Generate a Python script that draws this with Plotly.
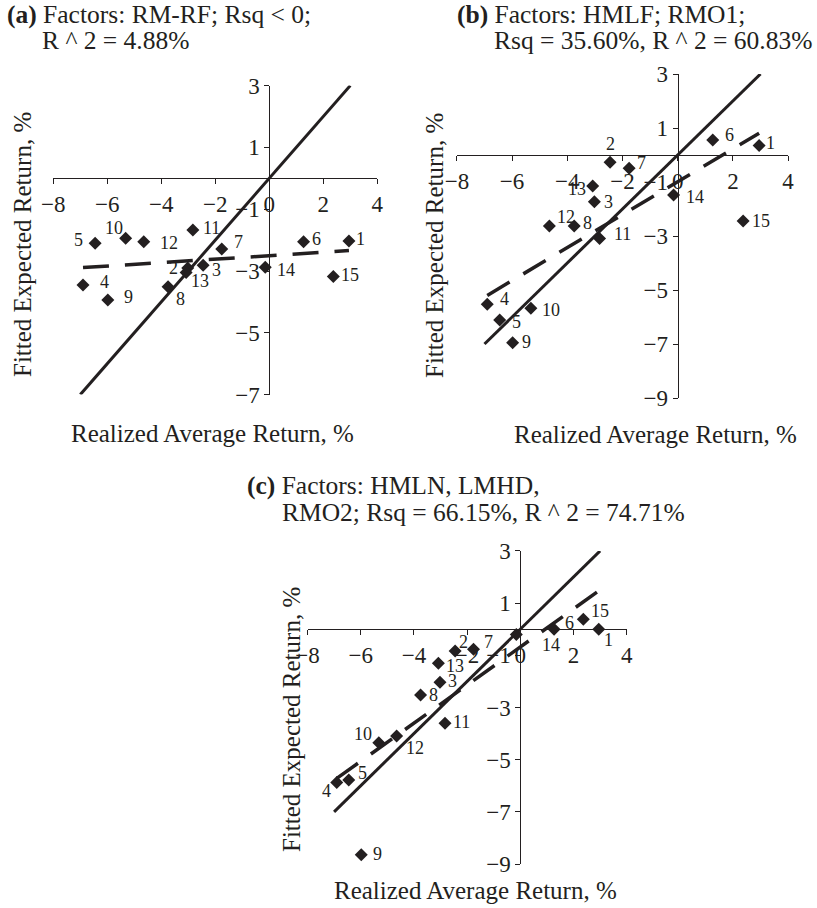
import plotly.graph_objects as go

W, H = 817, 908
FONT = "Liberation Serif"
INK = "#231f20"

# ---- data ----
portfolios = [str(i) for i in range(1, 16)]
realized = [2.95, -2.45, -3.02, -6.90, -6.45, 1.27, -1.76, -3.75, -5.98, -5.32, -2.83, -4.65, -3.08, -0.15, 2.37]
fitted_a = [-2.03, -2.81, -2.90, -3.45, -2.10, -2.05, -2.29, -3.51, -3.94, -1.94, -1.67, -2.05, -3.05, -2.88, -3.18]
fitted_b = [0.35, -0.27, -1.73, -5.53, -6.11, 0.56, -0.49, -2.63, -6.95, -5.68, -3.09, -2.63, -1.15, -1.48, -2.44]
fitted_c = [0.00, -0.84, -2.03, -5.88, -5.78, 0.00, -0.77, -2.52, -8.65, -4.35, -3.61, -4.09, -1.31, -0.20, 0.38]

diag_x = [-7, 3]
diag_y = [-7, 3]
fit_a_x, fit_a_y = [-6.9, 2.95], [-2.89, -2.34]
fit_b_x, fit_b_y = [-6.9, 2.95], [-5.20, 0.81]
fit_c_x, fit_c_y = [-6.9, 2.95], [-5.72, 1.47]

x_ticks = [-8, -6, -4, -2, 0, 2, 4]
y_ticks_a = [-7, -5, -3, -1, 1, 3]
y_ticks_bc = [-9, -7, -5, -3, -1, 1, 3]

titles_a = ["<b>(a)</b> Factors: RM-RF; Rsq < 0;", "R ^ 2 = 4.88%"]
titles_b = ["<b>(b)</b> Factors: HMLF; RMO1;", "Rsq = 35.60%, R ^ 2 = 60.83%"]
titles_c = ["<b>(c)</b> Factors: HMLN, LMHD,", "RMO2; Rsq = 66.15%, R ^ 2 = 74.71%"]
x_title = "Realized Average Return, %"
y_title = "Fitted Expected Return, %"

# ---- label offsets (px, dx right, dy down) ----
off_a = [(12, -2), (-30, 3), (29, 2), (21, -3), (-17, -3), (13, -3), (17, -7), (12, 12),
         (21, -3), (-12, -10), (19, -2), (25, 1), (14, 8), (21, 3), (17, -2)]
off_b = [(11, -3), (0, -18), (14, 0), (17, -5), (17, 2), (17, -5), (12, -5), (13, -3),
         (14, -1), (20, 2), (23, -4), (17, -9), (-16, 3), (21, 2), (18, 0)]
off_c = [(10, 11), (8, -9), (13, -1), (-10, 8), (14, -7), (15, -6), (15, -7), (13, 0),
         (16, -1), (-16, -9), (16, -1), (18, 12), (17, 3), (35, 11), (17, -8)]

# ---- panel geometry (px) ----
panels = [
    dict(fitted=fitted_a, fx=fit_a_x, fy=fit_a_y, off=off_a, titles=titles_a,
         xpx=(53.3, 377.3), ypx=(394.6, 85.6), yr=[-7, 3], yt=y_ticks_a,
         tpos=[(5, 15), (40, 41)], xt=(212, 433), yt_pos=(22, 245)),
    dict(fitted=fitted_b, fx=fit_b_x, fy=fit_b_y, off=off_b, titles=titles_b,
         xpx=(456.9, 788.1), ypx=(398, 74), yr=[-9, 3], yt=y_ticks_bc,
         tpos=[(455, 15), (492, 41)], xt=(655, 434), yt_pos=(434, 246)),
    dict(fitted=fitted_c, fx=fit_c_x, fy=fit_c_y, off=off_c, titles=titles_c,
         xpx=(307.5, 626.7), ypx=(864, 550.9), yr=[-9, 3], yt=y_ticks_bc,
         tpos=[(245, 485), (280, 512)], xt=(475, 890), yt_pos=(291, 720)),
]

fig = go.Figure()
annotations = []
layout = {}

for i, p in enumerate(panels):
    n = "" if i == 0 else str(i + 1)
    xa, ya = "x" + n, "y" + n
    xd = [p["xpx"][0] / W, p["xpx"][1] / W]
    yd = [1 - p["ypx"][0] / H, 1 - p["ypx"][1] / H]
    xr = [x_ticks[0], x_ticks[-1]]
    yr = p["yr"]
    ypos0 = yd[0] + (0 - yr[0]) / (yr[1] - yr[0]) * (yd[1] - yd[0])
    xpos0 = xd[0] + (0 - xr[0]) / (xr[1] - xr[0]) * (xd[1] - xd[0])
    common = dict(showgrid=False, zeroline=False, showline=True, linecolor=INK, linewidth=1,
                  ticks="outside", ticklen=5, tickwidth=1, tickcolor=INK, automargin=False,
                  tickfont=dict(family=FONT, size=23, color=INK))
    layout["xaxis" + n] = dict(domain=xd, range=xr, tickvals=x_ticks, anchor="free",
                               position=ypos0, **common)
    layout["yaxis" + n] = dict(domain=yd, range=yr, tickvals=p["yt"], anchor="free",
                               position=xpos0, **common)

    fig.add_trace(go.Scatter(x=diag_x, y=diag_y, mode="lines", xaxis=xa, yaxis=ya,
                             line=dict(color=INK, width=3), showlegend=False, cliponaxis=False))
    fig.add_trace(go.Scatter(x=p["fx"], y=p["fy"], mode="lines", xaxis=xa, yaxis=ya,
                             line=dict(color=INK, width=3.5, dash="26px,16px"),
                             showlegend=False, cliponaxis=False))
    fig.add_trace(go.Scatter(x=realized, y=p["fitted"], mode="markers", xaxis=xa, yaxis=ya,
                             marker=dict(symbol="diamond", size=10, color=INK),
                             showlegend=False, cliponaxis=False))
    for lab, xv, yv, (dx, dy) in zip(portfolios, realized, p["fitted"], p["off"]):
        annotations.append(dict(x=xv, y=yv, xref=xa, yref=ya, text=lab, showarrow=False,
                                xshift=dx, yshift=-dy, xanchor="center", yanchor="middle",
                                font=dict(family=FONT, size=18, color=INK)))
    for t, (tx, ty) in zip(p["titles"], p["tpos"]):
        annotations.append(dict(x=tx / W, y=1 - ty / H, xref="paper", yref="paper", text=t,
                                showarrow=False, xanchor="left", yanchor="middle",
                                font=dict(family=FONT, size=25.5, color=INK)))
    annotations.append(dict(x=p["xt"][0] / W, y=1 - p["xt"][1] / H, xref="paper", yref="paper",
                            text=x_title, showarrow=False, xanchor="center", yanchor="middle",
                            font=dict(family=FONT, size=25, color=INK)))
    annotations.append(dict(x=p["yt_pos"][0] / W, y=1 - p["yt_pos"][1] / H, xref="paper",
                            yref="paper", text=y_title, showarrow=False, textangle=-90,
                            xanchor="center", yanchor="middle",
                            font=dict(family=FONT, size=25, color=INK)))

fig.update_layout(width=W, height=H, margin=dict(l=0, r=0, t=0, b=0, pad=0, autoexpand=False),
                  paper_bgcolor="white", plot_bgcolor="white", hovermode=False,
                  annotations=annotations, **layout)
fig.write_html("out.html", config={"displayModeBar": False, "staticPlot": True},
               post_script="document.body.style.margin='0px';document.body.style.padding='0px';")
